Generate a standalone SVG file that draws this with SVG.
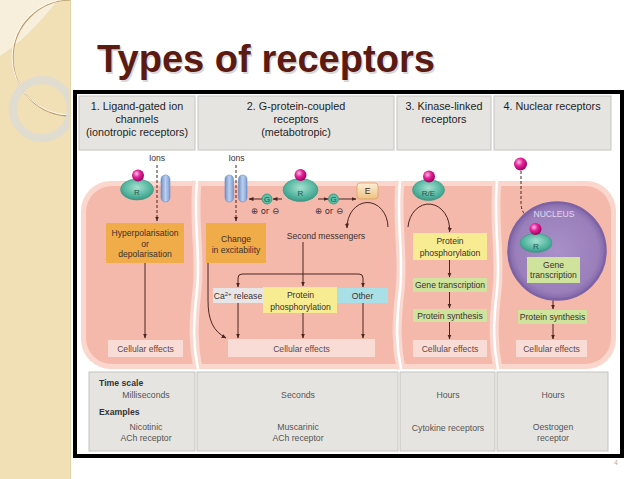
<svg xmlns="http://www.w3.org/2000/svg" width="638" height="479" viewBox="0 0 638 479">
<defs>
<style>
text{font-family:"Liberation Sans",Arial,sans-serif}
.hd{font-size:10.8px;fill:#1e1e1e;text-anchor:middle}
.nt{font-size:8.6px;fill:#3d3030;text-anchor:middle}
.ce{font-size:8.6px;fill:#5a4a4a;text-anchor:middle}
.tb{font-size:8.7px;fill:#555;text-anchor:middle}
.tl{font-size:8.7px;fill:#333;font-weight:bold}
.cell{fill:#e6e4e0;stroke:#c6c4c0;stroke-width:1}
.orange{fill:#efac48}
.yellow{fill:#f7ec92}
.green{fill:#cfe39c}
.cellfx{fill:#f9dcd5}
.ln{fill:none;stroke:#4a2522;stroke-width:1}
.dash{stroke-dasharray:3 2}
.rec{fill:url(#teal);stroke:#3a9784;stroke-width:0.6}
.ball{fill:url(#mag)}
.chan{fill:url(#blue);stroke:#6a8cc2;stroke-width:0.6}
.gc{fill:#5fbea8;stroke:#2f8f7b;stroke-width:0.8}
.rl{font-size:8px;fill:#24584d;text-anchor:middle}
.pm{font-size:8.5px;fill:#3d3030;text-anchor:middle;font-family:"DejaVu Sans","Liberation Sans",sans-serif}
.div1{fill:none;stroke:#fad8cf;stroke-width:9}
.div2{fill:none;stroke:#ffffff;stroke-width:2.5}
</style>
<marker id="ah" viewBox="0 0 10 10" refX="9" refY="5" markerWidth="5" markerHeight="5" orient="auto" markerUnits="userSpaceOnUse"><path d="M0,1 L10,5 L0,9 Z" fill="#4a2522"/></marker>
<radialGradient id="teal" cx="50%" cy="40%" r="60%"><stop offset="0" stop-color="#a6e0d0"/><stop offset="0.65" stop-color="#55b7a1"/><stop offset="1" stop-color="#3a9784"/></radialGradient>
<radialGradient id="mag" cx="38%" cy="35%" r="65%"><stop offset="0" stop-color="#ffc0ea"/><stop offset="0.45" stop-color="#e6259a"/><stop offset="1" stop-color="#a00060"/></radialGradient>
<linearGradient id="blue" x1="0" x2="1" y1="0" y2="0"><stop offset="0" stop-color="#6f92c9"/><stop offset="0.5" stop-color="#bcd0ef"/><stop offset="1" stop-color="#7c9cd1"/></linearGradient>
<linearGradient id="ebox" x1="0" x2="0" y1="0" y2="1"><stop offset="0" stop-color="#fcefd6"/><stop offset="1" stop-color="#eec184"/></linearGradient>
<radialGradient id="nuc" cx="50%" cy="50%" r="50%"><stop offset="0" stop-color="#a990c8"/><stop offset="0.85" stop-color="#9a7fbb"/><stop offset="1" stop-color="#8469aa"/></radialGradient>
<clipPath id="strip"><rect x="0" y="0" width="71" height="479"/></clipPath>
</defs>

<rect width="638" height="479" fill="#ffffff"/>

<g id="side-strip">
<rect x="0" y="0" width="71" height="479" fill="#f1dfb6"/>
<g clip-path="url(#strip)">
<path d="M0,0 L58,0 Q28,38 0,56 Z" fill="#f7eedc"/>
<circle cx="71" cy="58" r="58" fill="none" stroke="#b89c6a" stroke-width="1.2"/>
<circle cx="70" cy="57" r="58" fill="none" stroke="#fffaf0" stroke-width="1"/>
<circle cx="42" cy="109" r="29" fill="none" stroke="#dedbd3" stroke-width="8" opacity="0.9"/>
</g>
<line x1="70.5" y1="0" x2="70.5" y2="479" stroke="#e6d3a8" stroke-width="1"/>
</g>

<g id="title">
<text x="98.5" y="73.5" font-size="38" font-weight="bold" fill="#000" opacity="0.15" textLength="338" lengthAdjust="spacingAndGlyphs">Types of receptors</text>
<text x="97" y="72" font-size="38" font-weight="bold" fill="#5b1a12" textLength="338" lengthAdjust="spacingAndGlyphs">Types of receptors</text>
</g>

<g id="frame">
<rect x="75" y="92" width="547" height="364" fill="#ffffff" stroke="#000" stroke-width="4"/>
</g>

<g id="header">
<rect class="cell" x="79" y="96" width="116" height="54"/>
<rect class="cell" x="198" y="96" width="196" height="54"/>
<rect class="cell" x="397" y="96" width="94" height="54"/>
<rect class="cell" x="494" y="96" width="117" height="54"/>
<text class="hd" x="137" y="110">1. Ligand-gated ion</text>
<text class="hd" x="137" y="123">channels</text>
<text class="hd" x="137" y="136">(ionotropic receptors)</text>
<text class="hd" x="296" y="110">2. G-protein-coupled</text>
<text class="hd" x="296" y="123">receptors</text>
<text class="hd" x="296" y="136">(metabotropic)</text>
<text class="hd" x="444" y="110">3. Kinase-linked</text>
<text class="hd" x="444" y="123">receptors</text>
<text class="hd" x="552" y="110">4. Nuclear receptors</text>
</g>

<g id="cell-region">
<rect x="81" y="181" width="535" height="188" rx="30" fill="#fad6cc"/>
<rect x="86" y="186" width="525" height="178" rx="26" fill="#f5b9ab"/>
<path class="div1" d="M197,181 C193,225 201,255 197,290 S193,345 198,369"/>
<path class="div2" d="M197,181 C193,225 201,255 197,290 S193,345 198,369"/>
<path class="div1" d="M400,181 C396,225 404,255 400,290 S396,345 401,369"/>
<path class="div2" d="M400,181 C396,225 404,255 400,290 S396,345 401,369"/>
<path class="div1" d="M497,181 C493,225 501,255 497,290 S493,345 498,369"/>
<path class="div2" d="M497,181 C493,225 501,255 497,290 S493,345 498,369"/>
</g>

<g id="connectors">
<path class="ln dash" d="M157,165 V221" marker-end="url(#ah)"/>
<path class="ln" d="M145,263 V338" marker-end="url(#ah)"/>
<path class="ln dash" d="M236,165 V221" marker-end="url(#ah)"/>
<path class="ln" d="M282,199 H273" marker-end="url(#ah)"/>
<path class="ln" d="M262,199 H249" marker-end="url(#ah)"/>
<path class="ln" d="M318,199 H328" marker-end="url(#ah)"/>
<path class="ln" d="M339,199 H356" marker-end="url(#ah)"/>
<path class="ln" d="M388,227 A20.5,25 0 0 0 347,228" marker-end="url(#ah)"/>
<path class="ln" d="M303,242 V286" marker-end="url(#ah)"/>
<path class="ln" d="M303,274 H242 Q238,274 238,278 V287" marker-end="url(#ah)"/>
<path class="ln" d="M303,274 H359 Q363,274 363,278 V287" marker-end="url(#ah)"/>
<path class="ln" d="M238,303 V338" marker-end="url(#ah)"/>
<path class="ln" d="M303,313 V338" marker-end="url(#ah)"/>
<path class="ln" d="M363,303 V338" marker-end="url(#ah)"/>
<path class="ln" d="M208,263 V300 C208,320 213,331 226,338" marker-end="url(#ah)"/>
<path class="ln" d="M408,227 A20.5,25 0 0 1 449.5,232" marker-end="url(#ah)"/>
<path class="ln" d="M449.5,260 V277" marker-end="url(#ah)"/>
<path class="ln" d="M449.5,292 V308" marker-end="url(#ah)"/>
<path class="ln" d="M449.5,322 V339" marker-end="url(#ah)"/>
<path class="ln dash" d="M521,171 V203 Q521,212 528,218" marker-end="url(#ah)"/>
<path class="ln" d="M553,245 Q562,245 562,257" marker-end="url(#ah)"/>
<path class="ln" d="M553,283 V309" marker-end="url(#ah)"/>
<path class="ln" d="M553,324 V339" marker-end="url(#ah)"/>
</g>

<g id="col1-ions"><text class="nt" x="157" y="161">Ions</text></g>
<g id="col1-channel"><rect class="chan" x="161" y="175" width="9" height="27" rx="4.5"/></g>
<g id="col1-receptor">
<ellipse class="rec" cx="137" cy="189.5" rx="16.5" ry="10.5"/>
<circle class="ball" cx="138" cy="175.5" r="6"/>
<text class="rl" x="137" y="195">R</text>
</g>
<g id="col1-hyper">
<rect class="orange" x="106" y="223" width="78" height="40"/>
<text class="nt" x="145" y="236">Hyperpolarisation</text>
<text class="nt" x="145" y="246.5">or</text>
<text class="nt" x="145" y="257">depolarisation</text>
</g>
<g id="col1-effects">
<rect class="cellfx" x="108" y="340" width="75" height="17"/>
<text class="ce" x="145.5" y="351.5">Cellular effects</text>
</g>

<g id="col2-ions"><text class="nt" x="236.5" y="161">Ions</text></g>
<g id="col2-channel">
<rect class="chan" x="225" y="175" width="8.5" height="27" rx="4.2"/>
<rect class="chan" x="238.5" y="175" width="8.5" height="27" rx="4.2"/>
</g>
<g id="col2-change">
<rect class="orange" x="206" y="223" width="60" height="40"/>
<text class="nt" x="236" y="242">Change</text>
<text class="nt" x="236" y="252.5">in excitability</text>
</g>
<g id="col2-g1">
<circle class="gc" cx="267" cy="199" r="5"/>
<text class="rl" x="267" y="201.8" font-size="7">G</text>
<text class="pm" x="265" y="213.5">⊕ or ⊖</text>
</g>
<g id="col2-receptor">
<ellipse class="rec" cx="300.5" cy="190" rx="17.5" ry="11.5"/>
<circle class="ball" cx="300.5" cy="175" r="6"/>
<text class="rl" x="300.5" y="196">R</text>
</g>
<g id="col2-g2">
<circle class="gc" cx="333.5" cy="199" r="5"/>
<text class="rl" x="333.5" y="201.8" font-size="7">G</text>
<text class="pm" x="329" y="213.5">⊕ or ⊖</text>
</g>
<g id="col2-e">
<rect x="357" y="183" width="21" height="16" rx="3" fill="url(#ebox)" stroke="#d9a25a" stroke-width="0.8"/>
<text class="nt" x="367.5" y="194">E</text>
</g>
<g id="col2-second"><text class="nt" x="326" y="238.5">Second messengers</text></g>
<g id="col2-ca">
<rect x="213" y="288" width="50" height="15" fill="#e8e5e6"/>
<text class="nt" x="238" y="299">Ca<tspan font-size="6" dy="-3">2+</tspan><tspan dy="3"> release</tspan></text>
</g>
<g id="col2-protein">
<rect class="yellow" x="263" y="287" width="74" height="26"/>
<text class="nt" x="300.5" y="298">Protein</text>
<text class="nt" x="300.5" y="309.5">phosphorylation</text>
</g>
<g id="col2-other">
<rect x="337" y="288" width="51" height="15" fill="#a9dfe6"/>
<text class="nt" x="362.5" y="299">Other</text>
</g>
<g id="col2-effects">
<rect class="cellfx" x="228" y="339" width="147" height="18"/>
<text class="ce" x="301.5" y="351.5">Cellular effects</text>
</g>

<g id="col3-receptor">
<ellipse class="rec" cx="428.5" cy="190" rx="16" ry="10.5"/>
<circle class="ball" cx="429" cy="176.5" r="6"/>
<text class="rl" x="428.5" y="195.5">R/E</text>
</g>
<g id="col3-protein">
<rect class="yellow" x="413" y="233" width="74" height="27"/>
<text class="nt" x="450" y="244">Protein</text>
<text class="nt" x="450" y="255.5">phosphorylation</text>
</g>
<g id="col3-gene">
<rect class="green" x="413" y="278" width="74" height="14"/>
<text class="nt" x="450" y="288.3">Gene transcription</text>
</g>
<g id="col3-synth">
<rect class="green" x="413" y="309" width="74" height="13"/>
<text class="nt" x="450" y="318.7">Protein synthesis</text>
</g>
<g id="col3-effects">
<rect class="cellfx" x="413" y="340" width="74" height="17"/>
<text class="ce" x="450" y="351.5">Cellular effects</text>
</g>

<g id="col4-ligand"><circle class="ball" cx="520.5" cy="164" r="6.5"/></g>
<g id="col4-nucleus">
<circle cx="557" cy="251" r="48.5" fill="url(#nuc)" stroke="#7d62a5" stroke-width="2.5"/>
<text x="554" y="217" font-size="8.6" fill="#e2d8f0" text-anchor="middle">NUCLEUS</text>
</g>
<g id="col4-receptor">
<ellipse class="rec" cx="536" cy="243" rx="16" ry="9.5"/>
<circle class="ball" cx="535.5" cy="229" r="6"/>
<text class="rl" x="536" y="248.5">R</text>
</g>
<g id="col4-gene">
<rect class="green" x="527" y="257" width="53" height="26"/>
<text class="nt" x="553.5" y="267.5">Gene</text>
<text class="nt" x="553.5" y="278">transcription</text>
</g>
<g id="col4-synth">
<rect class="green" x="518" y="310" width="69" height="14"/>
<text class="nt" x="552.5" y="320.3">Protein synthesis</text>
</g>
<g id="col4-effects">
<rect class="cellfx" x="516" y="340" width="71" height="17"/>
<text class="ce" x="551.5" y="351.5">Cellular effects</text>
</g>

<g id="footer-table">
<rect class="cell" x="89" y="372" width="106" height="79"/>
<rect class="cell" x="197" y="372" width="201" height="79"/>
<rect class="cell" x="400" y="372" width="95" height="79"/>
<rect class="cell" x="497" y="372" width="111" height="79"/>
<text class="tl" x="99" y="386">Time scale</text>
<text class="tb" x="146" y="398">Milliseconds</text>
<text class="tl" x="99" y="415">Examples</text>
<text class="tb" x="146" y="430">Nicotinic</text>
<text class="tb" x="146" y="441">ACh receptor</text>
<text class="tb" x="298" y="398">Seconds</text>
<text class="tb" x="298" y="430">Muscarinic</text>
<text class="tb" x="298" y="441">ACh receptor</text>
<text class="tb" x="448" y="398">Hours</text>
<text class="tb" x="448" y="431">Cytokine receptors</text>
<text class="tb" x="553" y="398">Hours</text>
<text class="tb" x="553" y="430">Oestrogen</text>
<text class="tb" x="553" y="441">receptor</text>
</g>

<g id="page-number"><text x="614" y="465" font-size="7" fill="#b0b0b0">4</text></g>
</svg>
